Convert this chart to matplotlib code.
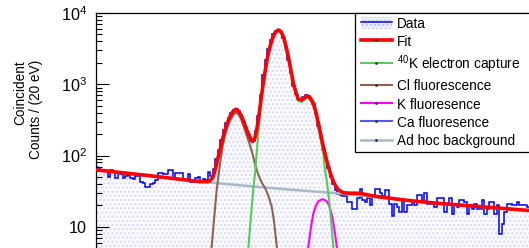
import numpy as np
import matplotlib
matplotlib.use('Agg')
import matplotlib.pyplot as plt
from matplotlib.lines import Line2D
from matplotlib.patches import Patch, Rectangle
from matplotlib.ticker import LogLocator, FuncFormatter, NullFormatter

plt.rcParams['font.family'] = ['Liberation Sans', 'DejaVu Sans']
plt.rcParams['mathtext.fontset'] = 'custom'
plt.rcParams['mathtext.rm'] = 'Liberation Sans'
plt.rcParams['mathtext.it'] = 'Liberation Sans:italic'
plt.rcParams['hatch.linewidth'] = 1.0

# ---------------- data ----------------
bin_width = 20          # eV
energy_min, energy_max = 1500, 5000

counts = [69, 66, 62, 62, 60, 50, 62, 58, 48, 56,
          55, 48, 52, 53, 48, 47, 52, 51, 43, 41,
          36, 36, 40, 41, 46, 57, 57, 55, 55, 63,
          63, 49, 56, 56, 56, 45, 45, 55, 43, 43,
          49, 50, 43, 47, 46, 59, 52,
          64, 88, 118, 165, 225, 285, 340, 390, 440, 445,
          420, 370, 300, 240, 195, 162, 160, 220, 360, 700,
          1350, 2200, 3150, 4200, 5100, 5650, 5800, 5350, 4400, 3200,
          2200, 1450, 950, 720, 620, 610, 660, 700, 680, 610,
          520, 380, 260, 175, 125, 90, 66, 50,
          40, 33, 29, 28, 27, 27, 22, 22, 18, 18,
          25, 34, 24, 22, 25, 20, 28, 34, 34, 30,
          27, 33, 33, 21, 14, 21, 19, 16, 23, 16,
          20, 20, 22, 20, 28, 28, 23, 30, 21, 21,
          21, 19, 25, 25, 25, 16, 21, 25, 15, 21,
          19, 24, 24, 22, 15, 20, 18, 21, 18, 18,
          24, 15, 18, 22, 22, 15, 20, 8, 11, 16,
          21, 21, 20, 20, 22, 20, 20, 20, 19, 19]

fit_energy = [1500, 1938, 2339, 2395, 2419, 2444, 2460, 2480, 2500, 2520,
              2540, 2560, 2580, 2604, 2626, 2648, 2674, 2692, 2714, 2737,
              2759, 2777, 2794, 2809, 2821, 2841, 2861, 2881, 2901, 2921,
              2941, 2968, 2990, 3008, 3028, 3048, 3068, 3088, 3110, 3128,
              3156, 3178, 3201, 3225, 3249, 3269, 3289, 3309, 3329, 3349,
              3369, 3389, 3410, 3430, 3450, 3490, 3544, 3624, 3728, 3999,
              4226, 4587, 5000]
fit_values = [63, 52, 43, 43, 44, 50, 63, 88, 120, 170,
              229, 290, 352, 415, 446, 420, 352, 290, 229, 185,
              157, 170, 229, 330, 485, 880, 1500, 2400, 3370, 4400,
              5300, 5780, 5450, 4660, 3500, 2440, 1600, 1033, 760, 622,
              603, 650, 686, 640, 541, 410, 284, 195, 133, 95,
              70, 54, 43, 37, 33, 30, 29.6, 29.5, 27, 23.5,
              21.5, 19.2, 16.8]

k40_energy = [2727, 2741, 2754, 2767, 2781, 2794, 2807, 2821, 2841, 2861,
              2881, 2901, 2921, 2941, 2968, 2990, 3008, 3028, 3048, 3068,
              3088, 3110, 3128, 3156, 3178, 3201, 3225, 3249, 3269, 3289,
              3309, 3329, 3343, 3356, 3375, 3391, 3410, 3424]
k40_values = [5, 10, 19, 34, 57, 110, 205, 440, 830, 1430,
              2330, 3300, 4330, 5240, 5720, 5400, 4610, 3450, 2390, 1560,
              995, 720, 580, 563, 610, 645, 600, 500, 375, 245,
              160, 105, 62, 45, 24, 12.5, 5, 2.5]

cl_energy = [2379, 2411, 2433, 2452, 2473, 2500, 2520, 2540, 2560, 2580,
             2604, 2626, 2648, 2674, 2692, 2714, 2737, 2759, 2781, 2805,
             2833, 2861, 2888, 2915, 2933, 2955, 2973]
cl_values = [1.5, 3, 5.3, 13, 33, 78, 135, 195, 255, 310,
             370, 400, 380, 310, 250, 190, 145, 108, 75, 55,
             42, 35, 27, 19, 12, 5.3, 2.5]

k_energy = [3190, 3209, 3230, 3249, 3271, 3291, 3323, 3355, 3375, 3394, 3415, 3437, 3455]
k_values = [3, 5.3, 10, 15.5, 20, 23, 24.4, 23, 20, 15.5, 10, 5.3, 3]

ca_energy = [3570, 3620, 3660, 3691, 3720, 3760, 3810]
ca_values = [1.2, 2.3, 3.3, 3.7, 3.3, 2.3, 1.2]

bg_energy = [1500, 1938, 2339, 2901, 3544, 4187, 5000]
bg_values = [63, 51.5, 43, 35, 28.5, 21.5, 16.8]

labels = ['Data', 'Fit', r'$^{40}$K electron capture', 'Cl fluorescence',
          'K fluoresence', 'Ca fluoresence', 'Ad hoc background']

# ---------------- colours ----------------
c_data = '#0000ff'
c_fit = '#ff0000'
c_k40 = '#55cc55'
c_cl = '#8c6450'
c_k = '#ff00ff'
c_ca = '#5a5aee'
c_bg = '#a8b8c5'

# ---------------- figure ----------------
W, H = 529, 248
fig = plt.figure(figsize=(W / 100, H / 100), dpi=100)
ax_l, ax_r, ax_t, ax_b = 95.5, 531.5, 13, 298
ax = fig.add_axes([ax_l / W, 1 - ax_b / H, (ax_r - ax_l) / W, (ax_b - ax_t) / H])

edges = np.arange(energy_min, energy_max + bin_width, bin_width)
ax.stairs(counts, edges, baseline=0.5, fill=True, facecolor='#fafaff',
          edgecolor='#d8dbf6', hatch='....', linewidth=0, zorder=1)
ax.stairs(counts, edges, baseline=None, color=c_data, linewidth=1.1, zorder=2)

ax.plot(bg_energy, bg_values, color=c_bg, lw=1.8, zorder=3)
ax.plot(ca_energy, ca_values, color=c_ca, lw=1.5, zorder=3)
ax.plot(k_energy, k_values, color=c_k, lw=1.5, zorder=3)
ax.plot(cl_energy, cl_values, color=c_cl, lw=1.5, zorder=3)
ax.plot(k40_energy, k40_values, color=c_k40, lw=1.5, zorder=3)
ax.plot(fit_energy, fit_values, color=c_fit, lw=2.6, zorder=4, solid_joinstyle='round')

ax.set_xlim(energy_min, energy_max)
ax.set_yscale('log')
ax.set_ylim(1, 1e4)
ax.yaxis.set_major_locator(LogLocator(base=10, numticks=10))
ax.yaxis.set_minor_locator(LogLocator(base=10, subs=np.arange(2, 10), numticks=10))
ax.yaxis.set_minor_formatter(NullFormatter())


def fmt(v, pos):
    e = int(round(np.log10(v)))
    if e == 0:
        return ''   # lies below the visible (cropped) part of the figure
    if e == 1:
        return '10'
    return r'$\mathdefault{10^{%d}}$' % e


ax.yaxis.set_major_formatter(FuncFormatter(fmt))
ax.tick_params(axis='y', which='major', direction='in', length=9.4, width=0.8,
               pad=6, labelsize=11.7)
ax.tick_params(axis='y', which='minor', direction='in', length=4.3, width=0.8)
ax.tick_params(axis='x', which='both', direction='in', labelbottom=False)
for s in ax.spines.values():
    s.set_linewidth(0.9)

ax.set_ylabel('Coincident\nCounts / (20 eV)', loc='top', fontsize=9.8)
ax.yaxis.set_label_coords((43 - ax_l) / (ax_r - ax_l), (ax_b - 60) / (ax_b - ax_t))

# legend
handles = [
    (Patch(facecolor='#eef0fc', edgecolor='#b8c0f0', hatch='....', linewidth=0),
     Line2D([], [], color=c_data, lw=1.1)),
]
for c, lw in [(c_fit, 2.6), (c_k40, 1.5), (c_cl, 1.5), (c_k, 1.5), (c_ca, 1.5), (c_bg, 1.8)]:
    handles.append(Line2D([], [], color=c, lw=lw, marker='.', ms=2,
                          mfc='#333333', mec='#333333'))

frame = Rectangle((354.7 / W, 1 - 152 / H), (600 - 354.7) / W, (152 - 13) / H,
                  transform=fig.transFigure, facecolor='white', edgecolor='black',
                  linewidth=0.9, zorder=4.5, clip_on=False)
ax.add_patch(frame)
leg = ax.legend(handles, labels, loc='upper left',
                bbox_to_anchor=(360.7 / W, 1 - 16.5 / H), bbox_transform=fig.transFigure,
                frameon=False, fontsize=9.8, handlelength=2.28, handleheight=1.05,
                handletextpad=0.39, labelspacing=0.32, borderpad=0, borderaxespad=0)
leg.set_zorder(5)

fig.savefig('out.png', dpi=100)
